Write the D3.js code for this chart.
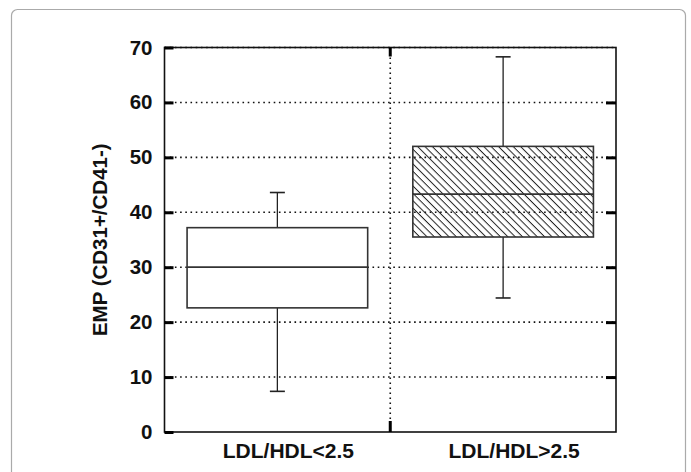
<!DOCTYPE html>
<html>
<head>
<meta charset="utf-8">
<script src="https://cdn.jsdelivr.net/npm/d3@7"></script>
<style>
  body { margin: 0; background: #fff; }
  text { font-family: "Liberation Sans", Arial, sans-serif; font-weight: bold; fill: #111; }
</style>
</head>
<body>
<div id="box-plot"></div>
<script>
// Data
var groups = ["LDL/HDL<2.5", "LDL/HDL>2.5"];
var whiskerLow = [7.4, 24.4];
var q1 = [22.6, 35.5];
var median = [30.0, 43.3];
var q3 = [37.2, 52.0];
var whiskerHigh = [43.6, 68.3];
var yTicks = [0, 10, 20, 30, 40, 50, 60, 70];
var yLabel = "EMP  (CD31+/CD41-)";

// SVG area
var svgWidth = 691;
var svgHeight = 472;

var chartMargin = { top: 47.5, right: 75, bottom: 40, left: 164.5 };
var chartWidth = svgWidth - chartMargin.left - chartMargin.right;
var chartHeight = svgHeight - chartMargin.top - chartMargin.bottom;

var svg = d3.select("#box-plot")
  .append("svg")
  .attr("width", svgWidth)
  .attr("height", svgHeight);

// hatch pattern for the second box
svg.append("defs")
  .append("pattern")
  .attr("id", "hatch")
  .attr("patternUnits", "userSpaceOnUse")
  .attr("width", 5.2)
  .attr("height", 5.2)
  .attr("patternTransform", "rotate(45)")
  .append("line")
  .attr("x1", 0).attr("y1", 0.5)
  .attr("x2", 5.2).attr("y2", 0.5)
  .attr("stroke", "#222")
  .attr("stroke-width", 1);

// card border
svg.append("rect")
  .attr("x", 11.5)
  .attr("y", 9.5)
  .attr("width", 674)
  .attr("height", 480)
  .attr("rx", 6)
  .attr("fill", "#fff")
  .attr("stroke", "#aaa")
  .attr("stroke-width", 1.2);

var chartGroup = svg.append("g")
  .attr("transform", `translate(${chartMargin.left}, ${chartMargin.top})`);

var rows = groups.map(function(g, i) {
  return { group: g, lo: whiskerLow[i], q1: q1[i], med: median[i], q3: q3[i], hi: whiskerHigh[i] };
});

// scales
var xBandScale = d3.scaleBand()
  .domain(groups)
  .range([0, chartWidth])
  .padding(0);

var yLinearScale = d3.scaleLinear()
  .domain([0, 70])
  .range([chartHeight, 0]);

var boxWidth = xBandScale.bandwidth() * 0.8;
var capWidth = 15;

// dotted grid lines
chartGroup.append("g")
  .selectAll("line")
  .data(yTicks.slice(1))
  .enter()
  .append("line")
  .attr("x1", 0)
  .attr("x2", chartWidth)
  .attr("y1", d => yLinearScale(d))
  .attr("y2", d => yLinearScale(d))
  .attr("stroke", "#111")
  .attr("stroke-width", 1.6)
  .attr("stroke-dasharray", "1.6,3.6");

chartGroup.append("line")
  .attr("x1", xBandScale.bandwidth())
  .attr("x2", xBandScale.bandwidth())
  .attr("y1", 0)
  .attr("y2", chartHeight)
  .attr("stroke", "#111")
  .attr("stroke-width", 1.6)
  .attr("stroke-dasharray", "1.6,3.4");

// frame
chartGroup.append("rect")
  .attr("x", 0)
  .attr("y", 0)
  .attr("width", chartWidth)
  .attr("height", chartHeight)
  .attr("fill", "none")
  .attr("stroke", "#111")
  .attr("stroke-width", 1.6);

// left axis with inward ticks
var leftAxis = d3.axisLeft(yLinearScale).tickValues(yTicks).tickSize(-9).tickPadding(12);
chartGroup.append("g")
  .call(leftAxis)
  .call(g => g.select(".domain").remove())
  .call(g => g.selectAll(".tick line").attr("stroke", "#000").attr("stroke-width", 3))
  .call(g => g.selectAll(".tick text").attr("font-size", "20.5px").attr("fill", "#111")
    .style("font-family", "'Liberation Sans', Arial, sans-serif").style("font-weight", "bold"));

// right axis ticks only
var rightAxis = d3.axisRight(yLinearScale).tickValues(yTicks.slice(1, 7)).tickSize(-10).tickFormat("");
chartGroup.append("g")
  .attr("transform", `translate(${chartWidth}, 0)`)
  .call(rightAxis)
  .call(g => g.select(".domain").remove())
  .call(g => g.selectAll(".tick line").attr("stroke", "#000").attr("stroke-width", 3));

// center ticks on top and bottom
chartGroup.append("line")
  .attr("x1", xBandScale.bandwidth()).attr("x2", xBandScale.bandwidth())
  .attr("y1", 0).attr("y2", 9)
  .attr("stroke", "#000").attr("stroke-width", 3);
chartGroup.append("line")
  .attr("x1", xBandScale.bandwidth()).attr("x2", xBandScale.bandwidth())
  .attr("y1", chartHeight - 11).attr("y2", chartHeight)
  .attr("stroke", "#000").attr("stroke-width", 3);

// bottom category labels
chartGroup.append("g")
  .selectAll("text")
  .data(groups)
  .enter()
  .append("text")
  .attr("x", d => xBandScale(d) + xBandScale.bandwidth() / 2 + 11)
  .attr("y", chartHeight + 25.5)
  .attr("text-anchor", "middle")
  .attr("font-size", "21px")
  .text(d => d);

// y axis label
svg.append("text")
  .attr("transform", `translate(107, ${chartMargin.top + chartHeight / 2}) rotate(-90)`)
  .attr("text-anchor", "middle")
  .attr("font-size", "20.5px")
  .text(yLabel);

// boxes
var boxes = chartGroup.selectAll(".box")
  .data(rows)
  .enter()
  .append("g")
  .attr("class", "box")
  .attr("transform", d => `translate(${xBandScale(d.group) + xBandScale.bandwidth() / 2}, 0)`);

// whiskers
boxes.append("line")
  .attr("x1", 0).attr("x2", 0)
  .attr("y1", d => yLinearScale(d.q3))
  .attr("y2", d => yLinearScale(d.hi))
  .attr("stroke", "#222").attr("stroke-width", 1.3);
boxes.append("line")
  .attr("x1", 0).attr("x2", 0)
  .attr("y1", d => yLinearScale(d.q1))
  .attr("y2", d => yLinearScale(d.lo))
  .attr("stroke", "#222").attr("stroke-width", 1.3);
boxes.append("line")
  .attr("x1", -capWidth / 2).attr("x2", capWidth / 2)
  .attr("y1", d => yLinearScale(d.hi))
  .attr("y2", d => yLinearScale(d.hi))
  .attr("stroke", "#222").attr("stroke-width", 1.6);
boxes.append("line")
  .attr("x1", -capWidth / 2).attr("x2", capWidth / 2)
  .attr("y1", d => yLinearScale(d.lo))
  .attr("y2", d => yLinearScale(d.lo))
  .attr("stroke", "#222").attr("stroke-width", 1.6);

// box body
boxes.append("rect")
  .attr("x", -boxWidth / 2)
  .attr("y", d => yLinearScale(d.q3))
  .attr("width", boxWidth)
  .attr("height", d => yLinearScale(d.q1) - yLinearScale(d.q3))
  .attr("fill", (d, i) => i == 1 ? "url(#hatch)" : "#fff")
  .attr("stroke", "#333")
  .attr("stroke-width", 1.6);

// medians
boxes.append("line")
  .attr("x1", -boxWidth / 2).attr("x2", boxWidth / 2)
  .attr("y1", d => yLinearScale(d.med))
  .attr("y2", d => yLinearScale(d.med))
  .attr("stroke", "#333").attr("stroke-width", 1.8);
</script>
</body>
</html>
